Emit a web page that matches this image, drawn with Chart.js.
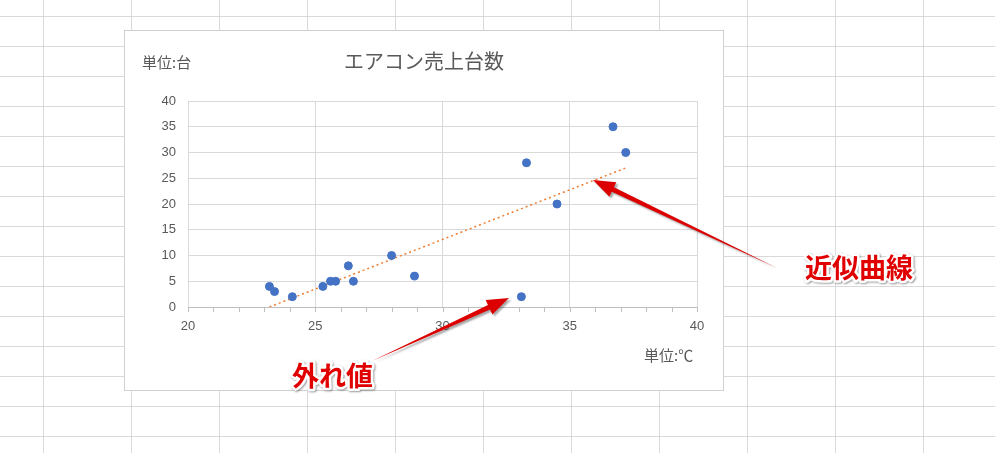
<!DOCTYPE html>
<html><head><meta charset="utf-8">
<script src="https://cdn.jsdelivr.net/npm/chart.js@4/dist/chart.umd.min.js"></script>
<style>html,body{margin:0;padding:0;background:#fff}canvas{display:block}</style>
</head><body><div style="width:995px;height:453px"><canvas id="c"></canvas></div>
<script>
const temperature = [23.2, 23.4, 24.1, 25.3, 25.6, 25.8, 26.3, 26.5, 28.0, 28.9, 33.3, 33.1, 34.5, 36.7, 37.2];
const unitsSold   = [4, 3, 2, 4, 5, 5, 8, 5, 10, 6, 28, 2, 20, 35, 30];
const trendX = [23.2, 37.2];
const trendY = [0, 27];
const xTicks = [20, 25, 30, 35, 40];
const yTicks = [0, 5, 10, 15, 20, 25, 30, 35, 40];

const JP = '"Noto Sans CJK JP", sans-serif';
const bg = {
  id: 'bg',
  beforeDraw(ch) {
    const c = ch.ctx; c.save();
    c.fillStyle = '#fff'; c.fillRect(0, 0, ch.width, ch.height);
    c.strokeStyle = '#d9d9d9'; c.lineWidth = 1;
    for (let x = 43.5; x < 995; x += 88) { c.beginPath(); c.moveTo(x, 0); c.lineTo(x, 453); c.stroke(); }
    for (let y = 16.5; y < 453; y += 30) { c.beginPath(); c.moveTo(0, y); c.lineTo(995, y); c.stroke(); }
    c.fillStyle = '#fff'; c.fillRect(124, 30, 599, 360);
    c.strokeStyle = '#d0d0d0'; c.strokeRect(124.5, 30.5, 599, 360);
    c.fillStyle = '#595959';
    c.font = '20px ' + JP; c.textAlign = 'center'; c.textBaseline = 'middle';
    c.fillText('エアコン売上台数', 424, 61);
    c.font = '15px ' + JP; c.textAlign = 'left';
    c.fillText('単位:台', 142, 62);
    c.fillText('単位:℃', 644, 355);
    c.restore();
  },
  afterDraw(ch) {
    const c = ch.ctx; c.save();
    const xs = ch.scales.x, yb = ch.scales.y.getPixelForValue(0);
    c.strokeStyle = '#bfbfbf'; c.lineWidth = 1;
    for (let v = 20; v <= 40; v++) {
      const px = Math.round(xs.getPixelForValue(v)) + 0.5;
      c.beginPath(); c.moveTo(px, yb); c.lineTo(px, yb + 5); c.stroke();
    }
    function arrow(x1, y1, x2, y2) {
      const a = Math.atan2(y2 - y1, x2 - x1);
      c.fillStyle = '#dd0000';
      c.shadowColor = 'rgba(0,0,0,0.35)'; c.shadowOffsetX = 2; c.shadowOffsetY = 2; c.shadowBlur = 2;
      const L = 22, W = 8;
      const bx = x2 - L * Math.cos(a), by = y2 - L * Math.sin(a);
      c.beginPath();
      c.moveTo(x1, y1);
      c.lineTo(bx - 2.5 * Math.sin(a), by + 2.5 * Math.cos(a));
      c.lineTo(bx - W * Math.sin(a), by + W * Math.cos(a));
      c.lineTo(x2, y2);
      c.lineTo(bx + W * Math.sin(a), by - W * Math.cos(a));
      c.lineTo(bx + 2.5 * Math.sin(a), by - 2.5 * Math.cos(a));
      c.closePath(); c.fill();
    }
    arrow(777, 268, 593, 180);
    arrow(372, 361, 509, 298);
    c.font = 'bold 27px ' + JP; c.textBaseline = 'middle'; c.textAlign = 'left';
    c.lineJoin = 'round'; c.lineWidth = 5; c.strokeStyle = '#fff';
    c.shadowColor = 'rgba(0,0,0,0.4)'; c.shadowOffsetX = 1; c.shadowOffsetY = 1; c.shadowBlur = 2;
    c.strokeText('近似曲線', 805, 268);
    c.strokeText('外れ値', 292, 376);
    c.shadowColor = 'transparent';
    c.fillStyle = '#e00000';
    c.fillText('近似曲線', 805, 268);
    c.fillText('外れ値', 292, 376);
    c.restore();
  }
};

new Chart(document.getElementById('c'), {
  type: 'scatter',
  data: { datasets: [
    { data: temperature.map((x, i) => ({ x, y: unitsSold[i] })), backgroundColor: '#4472c4', borderColor: '#4472c4', pointRadius: 4, pointHoverRadius: 4 },
    { type: 'line', data: trendX.map((x, i) => ({ x, y: trendY[i] })), borderColor: '#ed7d31', borderWidth: 1.5, borderDash: [2, 3], pointRadius: 0, fill: false }
  ]},
  plugins: [bg],
  options: {
    responsive: true, maintainAspectRatio: false, animation: false,
    layout: { padding: { left: 0, top: 101, right: 298, bottom: 116 } },
    plugins: { legend: { display: false }, tooltip: { enabled: false } },
    scales: {
      x: { type: 'linear', min: 20, max: 40,
        afterBuildTicks: s => { s.ticks = xTicks.map(v => ({ value: v })); },
        afterFit: s => { s.height = 30; },
        grid: { color: '#d9d9d9', drawTicks: false },
        border: { color: '#bfbfbf' },
        ticks: { color: '#595959', font: { size: 13, family: 'Liberation Sans' }, padding: 12, maxRotation: 0 } },
      y: { min: 0, max: 40,
        afterBuildTicks: s => { s.ticks = yTicks.map(v => ({ value: v })); },
        afterFit: s => { s.width = 188; },
        grid: { color: '#d9d9d9', drawTicks: false },
        border: { display: false },
        ticks: { color: '#595959', font: { size: 13, family: 'Liberation Sans' }, padding: 12 } }
    }
  }
});
</script></body></html>
